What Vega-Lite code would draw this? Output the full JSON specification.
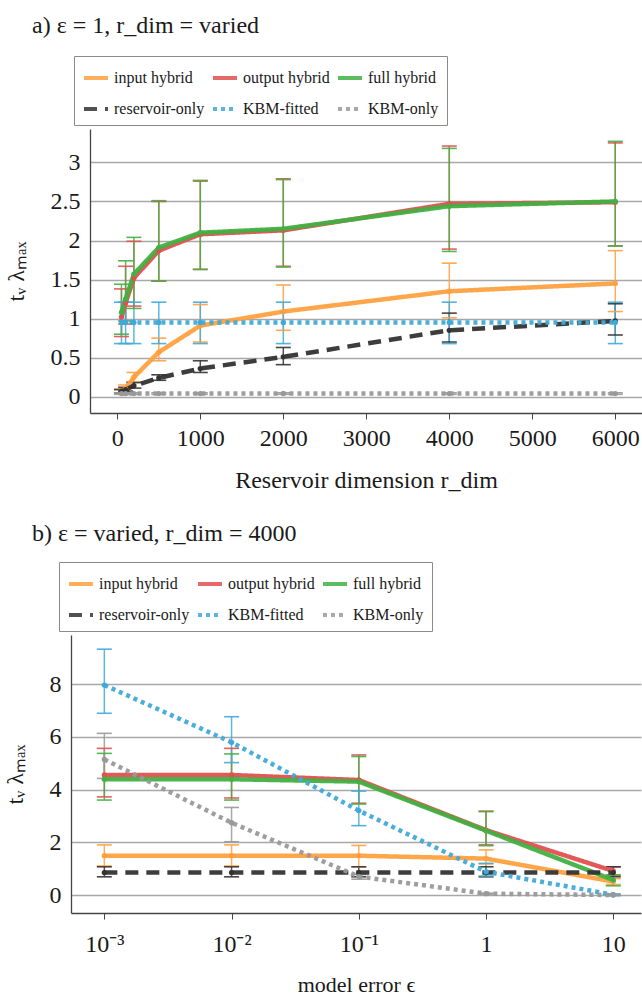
{
  "$schema": "https://vega.github.io/schema/vega-lite/v6.json",
  "background": "white",
  "padding": {"left": 3, "top": 13, "right": 0, "bottom": 0},
  "config": {
    "font": "Liberation Serif",
    "view": {"stroke": null},
    "axis": {
      "labelFont": "Liberation Serif",
      "titleFont": "Liberation Serif",
      "labelColor": "#1a1a1a",
      "titleColor": "#1a1a1a",
      "labelFontSize": 24,
      "titleFontSize": 24,
      "titleFontWeight": "normal",
      "domainColor": "#444444",
      "domainWidth": 1.3,
      "tickColor": "#444444",
      "gridColor": "#a8a8a8",
      "gridWidth": 1.4
    },
    "legend": {
      "labelFont": "Liberation Serif",
      "labelFontSize": 16,
      "labelColor": "#1a1a1a",
      "symbolType": "stroke",
      "symbolStrokeWidth": 4,
      "symbolSize": 576,
      "columns": 3,
      "columnPadding": 0,
      "rowPadding": 9,
      "padding": 8,
      "strokeColor": "#8a8a8a",
      "fillColor": "white",
      "labelLimit": 300,
      "labelOffset": 4
    },
    "title": {"font": "Liberation Serif", "fontSize": 24, "fontWeight": "normal", "color": "#1a1a1a"}
  },
  "datasets": {
    "a": [
      {"series": "input hybrid", "x": 50, "y": 0.07, "lo": 0.05, "hi": 0.10},
      {"series": "input hybrid", "x": 100, "y": 0.10, "lo": 0.07, "hi": 0.15},
      {"series": "input hybrid", "x": 200, "y": 0.25, "lo": 0.19, "hi": 0.31},
      {"series": "input hybrid", "x": 500, "y": 0.57, "lo": 0.46, "hi": 0.75},
      {"series": "input hybrid", "x": 1000, "y": 0.91, "lo": 0.70, "hi": 1.18},
      {"series": "input hybrid", "x": 2000, "y": 1.09, "lo": 0.85, "hi": 1.43},
      {"series": "input hybrid", "x": 4000, "y": 1.35, "lo": 1.01, "hi": 1.71},
      {"series": "input hybrid", "x": 6000, "y": 1.45, "lo": 1.09, "hi": 1.87},
      {"series": "output hybrid", "x": 50, "y": 1.02, "lo": 0.77, "hi": 1.38},
      {"series": "output hybrid", "x": 100, "y": 1.20, "lo": 0.93, "hi": 1.67},
      {"series": "output hybrid", "x": 200, "y": 1.52, "lo": 1.16, "hi": 1.99},
      {"series": "output hybrid", "x": 500, "y": 1.87, "lo": 1.48, "hi": 2.50},
      {"series": "output hybrid", "x": 1000, "y": 2.08, "lo": 1.63, "hi": 2.76},
      {"series": "output hybrid", "x": 2000, "y": 2.13, "lo": 1.67, "hi": 2.79},
      {"series": "output hybrid", "x": 4000, "y": 2.47, "lo": 1.89, "hi": 3.21},
      {"series": "output hybrid", "x": 6000, "y": 2.49, "lo": 1.93, "hi": 3.25},
      {"series": "full hybrid", "x": 50, "y": 1.08, "lo": 0.80, "hi": 1.44},
      {"series": "full hybrid", "x": 100, "y": 1.25, "lo": 0.97, "hi": 1.74},
      {"series": "full hybrid", "x": 200, "y": 1.57, "lo": 1.13, "hi": 2.04},
      {"series": "full hybrid", "x": 500, "y": 1.91, "lo": 1.48, "hi": 2.51},
      {"series": "full hybrid", "x": 1000, "y": 2.10, "lo": 1.63, "hi": 2.77},
      {"series": "full hybrid", "x": 2000, "y": 2.15, "lo": 1.66, "hi": 2.78},
      {"series": "full hybrid", "x": 4000, "y": 2.44, "lo": 1.86, "hi": 3.18},
      {"series": "full hybrid", "x": 6000, "y": 2.50, "lo": 1.93, "hi": 3.27},
      {"series": "reservoir-only", "x": 50, "y": 0.07, "lo": 0.05, "hi": 0.09},
      {"series": "reservoir-only", "x": 100, "y": 0.09, "lo": 0.07, "hi": 0.12},
      {"series": "reservoir-only", "x": 200, "y": 0.14, "lo": 0.11, "hi": 0.18},
      {"series": "reservoir-only", "x": 500, "y": 0.24, "lo": 0.21, "hi": 0.28},
      {"series": "reservoir-only", "x": 1000, "y": 0.36, "lo": 0.31, "hi": 0.46},
      {"series": "reservoir-only", "x": 2000, "y": 0.51, "lo": 0.41, "hi": 0.63},
      {"series": "reservoir-only", "x": 4000, "y": 0.85, "lo": 0.70, "hi": 1.07},
      {"series": "reservoir-only", "x": 6000, "y": 0.97, "lo": 0.79, "hi": 1.19},
      {"series": "KBM-fitted", "x": 50, "y": 0.95, "lo": 0.68, "hi": 1.21},
      {"series": "KBM-fitted", "x": 100, "y": 0.95, "lo": 0.68, "hi": 1.21},
      {"series": "KBM-fitted", "x": 200, "y": 0.95, "lo": 0.68, "hi": 1.21},
      {"series": "KBM-fitted", "x": 500, "y": 0.95, "lo": 0.68, "hi": 1.21},
      {"series": "KBM-fitted", "x": 1000, "y": 0.95, "lo": 0.68, "hi": 1.21},
      {"series": "KBM-fitted", "x": 2000, "y": 0.95, "lo": 0.68, "hi": 1.21},
      {"series": "KBM-fitted", "x": 4000, "y": 0.95, "lo": 0.68, "hi": 1.21},
      {"series": "KBM-fitted", "x": 6000, "y": 0.95, "lo": 0.68, "hi": 1.21},
      {"series": "KBM-only", "x": 50, "y": 0.04, "lo": 0.03, "hi": 0.05},
      {"series": "KBM-only", "x": 100, "y": 0.04, "lo": 0.03, "hi": 0.05},
      {"series": "KBM-only", "x": 200, "y": 0.04, "lo": 0.03, "hi": 0.05},
      {"series": "KBM-only", "x": 500, "y": 0.04, "lo": 0.03, "hi": 0.05},
      {"series": "KBM-only", "x": 1000, "y": 0.04, "lo": 0.03, "hi": 0.05},
      {"series": "KBM-only", "x": 2000, "y": 0.04, "lo": 0.03, "hi": 0.05},
      {"series": "KBM-only", "x": 4000, "y": 0.04, "lo": 0.03, "hi": 0.05},
      {"series": "KBM-only", "x": 6000, "y": 0.04, "lo": 0.03, "hi": 0.05}
    ],
    "b": [
      {"series": "input hybrid", "x": 0.001, "y": 1.49, "lo": 1.10, "hi": 1.90},
      {"series": "input hybrid", "x": 0.01, "y": 1.49, "lo": 1.10, "hi": 1.90},
      {"series": "input hybrid", "x": 0.1, "y": 1.49, "lo": 1.07, "hi": 1.88},
      {"series": "input hybrid", "x": 1, "y": 1.38, "lo": 1.18, "hi": 1.71},
      {"series": "input hybrid", "x": 10, "y": 0.51, "lo": 0.40, "hi": 0.62},
      {"series": "output hybrid", "x": 0.001, "y": 4.55, "lo": 3.72, "hi": 5.56},
      {"series": "output hybrid", "x": 0.01, "y": 4.55, "lo": 3.68, "hi": 5.56},
      {"series": "output hybrid", "x": 0.1, "y": 4.36, "lo": 3.48, "hi": 5.31},
      {"series": "output hybrid", "x": 1, "y": 2.46, "lo": 1.90, "hi": 3.18},
      {"series": "output hybrid", "x": 10, "y": 0.91, "lo": 0.75, "hi": 1.07},
      {"series": "full hybrid", "x": 0.001, "y": 4.39, "lo": 3.60, "hi": 5.37},
      {"series": "full hybrid", "x": 0.01, "y": 4.39, "lo": 3.60, "hi": 5.35},
      {"series": "full hybrid", "x": 0.1, "y": 4.30, "lo": 3.45, "hi": 5.25},
      {"series": "full hybrid", "x": 1, "y": 2.44, "lo": 1.87, "hi": 3.16},
      {"series": "full hybrid", "x": 10, "y": 0.57, "lo": 0.35, "hi": 0.76},
      {"series": "reservoir-only", "x": 0.001, "y": 0.85, "lo": 0.69, "hi": 1.07},
      {"series": "reservoir-only", "x": 0.01, "y": 0.85, "lo": 0.69, "hi": 1.07},
      {"series": "reservoir-only", "x": 0.1, "y": 0.85, "lo": 0.69, "hi": 1.07},
      {"series": "reservoir-only", "x": 1, "y": 0.85, "lo": 0.69, "hi": 1.07},
      {"series": "reservoir-only", "x": 10, "y": 0.85, "lo": 0.69, "hi": 1.07},
      {"series": "KBM-fitted", "x": 0.001, "y": 7.96, "lo": 6.89, "hi": 9.32},
      {"series": "KBM-fitted", "x": 0.01, "y": 5.79, "lo": 5.02, "hi": 6.76},
      {"series": "KBM-fitted", "x": 0.1, "y": 3.20, "lo": 2.63, "hi": 3.94},
      {"series": "KBM-fitted", "x": 1, "y": 0.88, "lo": 0.72, "hi": 1.20},
      {"series": "KBM-fitted", "x": 10, "y": 0.01, "lo": -0.02, "hi": 0.04},
      {"series": "KBM-only", "x": 0.001, "y": 5.14, "lo": 4.42, "hi": 6.13},
      {"series": "KBM-only", "x": 0.01, "y": 2.74, "lo": 2.02, "hi": 3.32},
      {"series": "KBM-only", "x": 0.1, "y": 0.70, "lo": 0.60, "hi": 0.78},
      {"series": "KBM-only", "x": 1, "y": 0.05, "lo": 0.03, "hi": 0.07},
      {"series": "KBM-only", "x": 10, "y": 0.0, "lo": -0.02, "hi": 0.02}
    ],
    "spacer": [{"k": 0}]
  },
  "concat": [
    {
      "hconcat": [
        {
          "width": 1,
          "height": 1,
          "data": {"name": "spacer"},
          "mark": {"type": "point", "opacity": 0},
          "encoding": {}
        },
        {
          "title": {"text": "a) ε = 1, r_dim = varied", "anchor": "start", "frame": "group", "dx": -58, "offset": 18},
          "width": 552,
          "height": 284,
          "data": {"name": "a"},
          "encoding": {
            "x": {"field": "x", "type": "quantitative",
              "scale": {"domain": [-329, 6322], "nice": false, "zero": false},
              "axis": {"title": "Reservoir dimension r_dim", "values": [0, 1000, 2000, 3000, 4000, 5000, 6000], "format": "d", "grid": false, "ticks": true, "tickSize": 6, "labelPadding": 7, "titlePadding": 18}},
            "color": {"field": "series", "type": "nominal",
              "scale": {"domain": ["input hybrid", "output hybrid", "full hybrid", "reservoir-only", "KBM-fitted", "KBM-only"],
                        "range": ["#FFA040", "#E05050", "#42B042", "#333333", "#3FAAD8", "#999999"]},
              "legend": {"title": null, "orient": "none", "legendX": -16, "legendY": -73, "direction": "horizontal", "columns": 3}}
          },
          "layer": [
            {"mark": {"type": "rule", "strokeWidth": 1.5, "opacity": 0.85},
             "encoding": {"y": {"field": "lo", "type": "quantitative", "scale": {"domain": [-0.209, 3.428], "nice": false, "zero": false},
                "axis": {"title": "tᵥ λₘₐₓ", "values": [0, 0.5, 1, 1.5, 2, 2.5, 3], "format": "~g", "grid": true, "ticks": false, "labelPadding": 10, "titlePadding": 22}},
                "y2": {"field": "hi"}}},
            {"mark": {"type": "tick", "orient": "horizontal", "size": 15, "thickness": 1.6, "opacity": 0.9},
             "encoding": {"y": {"field": "lo", "type": "quantitative"}}},
            {"mark": {"type": "tick", "orient": "horizontal", "size": 15, "thickness": 1.6, "opacity": 0.9},
             "encoding": {"y": {"field": "hi", "type": "quantitative"}}},
            {"mark": {"type": "line", "strokeWidth": 4.5, "opacity": 0.95, "strokeCap": "butt"},
             "encoding": {"y": {"field": "y", "type": "quantitative"},
               "strokeDash": {"field": "series", "type": "nominal",
                 "scale": {"domain": ["input hybrid", "output hybrid", "full hybrid", "reservoir-only", "KBM-fitted", "KBM-only"],
                           "range": [[1, 0], [1, 0], [1, 0], [13, 8], [4, 4], [4, 4]]},
                 "legend": {"title": null, "orient": "none", "legendX": -16, "legendY": -73, "direction": "horizontal", "columns": 3}}}},
            {"mark": {"type": "point", "filled": true, "size": 28, "opacity": 1},
             "encoding": {"y": {"field": "y", "type": "quantitative"}}}
          ]
        }
      ],
      "spacing": -71,
      "resolve": {
        "scale": {"color": "independent", "strokeDash": "independent"},
        "legend": {"color": "independent", "strokeDash": "independent"}
      }
    },
    {
      "title": {"text": "b) ε = varied, r_dim = 4000", "anchor": "start", "frame": "group", "dx": -39, "offset": 16},
      "width": 570,
      "height": 278,
      "data": {"name": "b"},
      "encoding": {
        "x": {"field": "x", "type": "quantitative",
          "scale": {"type": "log", "domain": [0.000547, 16.52], "nice": false},
          "axis": {"title": "model error ϵ", "titleFontSize": 22, "values": [0.001, 0.01, 0.1, 1, 10],
            "labelExpr": "datum.value < 0.005 ? '10⁻³' : datum.value < 0.05 ? '10⁻²' : datum.value < 0.5 ? '10⁻¹' : datum.value < 5 ? '1' : '10'",
            "grid": false, "ticks": true, "tickSize": 6, "labelPadding": 13, "titlePadding": 18}},
        "color": {"field": "series", "type": "nominal",
          "scale": {"domain": ["input hybrid", "output hybrid", "full hybrid", "reservoir-only", "KBM-fitted", "KBM-only"],
                    "range": ["#FFA040", "#E05050", "#42B042", "#333333", "#3FAAD8", "#999999"]},
          "legend": {"title": null, "orient": "none", "legendX": -12, "legendY": -73, "direction": "horizontal", "columns": 3}}
      },
      "layer": [
        {"mark": {"type": "rule", "strokeWidth": 1.5, "opacity": 0.85},
         "encoding": {"y": {"field": "lo", "type": "quantitative", "scale": {"domain": [-0.682, 9.858], "nice": false, "zero": false},
            "axis": {"title": "tᵥ λₘₐₓ", "values": [0, 2, 4, 6, 8], "format": "~g", "grid": true, "ticks": false, "labelPadding": 10, "titlePadding": 22}},
            "y2": {"field": "hi"}}},
        {"mark": {"type": "tick", "orient": "horizontal", "size": 15, "thickness": 1.6, "opacity": 0.9},
         "encoding": {"y": {"field": "lo", "type": "quantitative"}}},
        {"mark": {"type": "tick", "orient": "horizontal", "size": 15, "thickness": 1.6, "opacity": 0.9},
         "encoding": {"y": {"field": "hi", "type": "quantitative"}}},
        {"mark": {"type": "line", "strokeWidth": 4.5, "opacity": 0.95, "strokeCap": "butt"},
         "encoding": {"y": {"field": "y", "type": "quantitative"},
           "strokeDash": {"field": "series", "type": "nominal",
             "scale": {"domain": ["input hybrid", "output hybrid", "full hybrid", "reservoir-only", "KBM-fitted", "KBM-only"],
                       "range": [[1, 0], [1, 0], [1, 0], [13, 8], [4, 4], [4, 4]]},
             "legend": {"title": null, "orient": "none", "legendX": -12, "legendY": -73, "direction": "horizontal", "columns": 3}}}},
        {"mark": {"type": "point", "filled": true, "size": 28, "opacity": 1},
         "encoding": {"y": {"field": "y", "type": "quantitative"}}}
      ]
    }
  ],
  "resolve": {
    "scale": {"color": "independent", "strokeDash": "independent"},
    "legend": {"color": "independent", "strokeDash": "independent"}
  },
  "columns": 1,
  "spacing": 29
}
